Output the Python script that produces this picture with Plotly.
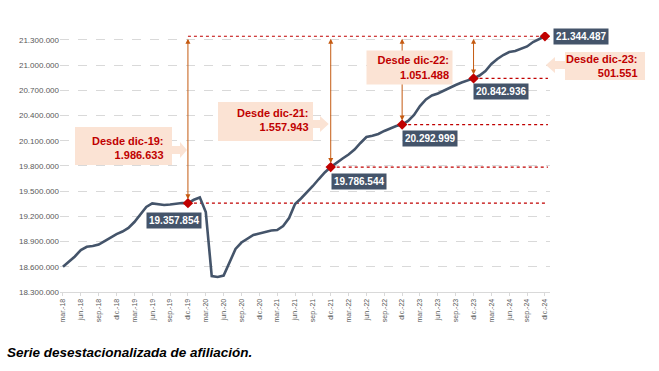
import plotly.graph_objects as go

# ---------------- data ----------------
months = ["mar", "abr", "may", "jun", "jul", "ago", "sep", "oct", "nov", "dic", "ene", "feb"]
period_labels = []
yr, mi = 18, 0
for k in range(82):
    period_labels.append(f"{months[mi]}.-{yr}")
    mi += 1
    if mi == 10:
        yr += 1
    if mi == 12:
        mi = 0

afiliados = [
    18601000, 18663000, 18723000, 18800000, 18838000, 18848000, 18865000, 18907000, 18949000, 18990000,
    19020000, 19062000, 19133000, 19217000, 19312000, 19354000, 19348000, 19336000, 19342000, 19354000,
    19360000, 19357854, 19398000, 19425000, 19252000, 18490000, 18479000, 18496000, 18657000, 18812000,
    18889000, 18937000, 18979000, 18996000, 19014000, 19032000, 19038000, 19086000, 19181000, 19348000,
    19413000, 19485000, 19562000, 19645000, 19723000, 19786544, 19842000, 19889000, 19937000, 19996000,
    20074000, 20145000, 20160000, 20181000, 20217000, 20246000, 20276000, 20292999, 20336000, 20407000,
    20514000, 20592000, 20639000, 20663000, 20699000, 20735000, 20764000, 20794000, 20818000, 20842936,
    20877000, 20931000, 21014000, 21074000, 21121000, 21157000, 21169000, 21193000, 21223000, 21276000,
    21306000, 21344487,
]

tick_idx = list(range(0, 82, 3))
tick_text = [period_labels[i] for i in tick_idx]

y_ticks = [18300000 + 300000 * k for k in range(11)]
y_tick_text = [f"{v:,}".replace(",", ".") for v in y_ticks]

hito_labels = ["dic-19", "dic-21", "dic-22", "dic-23", "dic-24"]
hito_idx = [21, 45, 57, 69, 81]
hito_vals = [afiliados[i] for i in hito_idx]
final_val = afiliados[-1]
diffs = [final_val - v for v in hito_vals[:-1]]

def fmt(v):
    return f"{v:,}".replace(",", ".")

# ---------------- geometry ----------------
W_FIG, H_FIG = 659, 371
L, R, T, B = 60, 109, 32, 79
PW, PH = W_FIG - L - R, H_FIG - T - B
X0, X1 = -0.5, 81.85
Y0, Y1 = 18300000, 21395000

def xpx(i):
    return L + (i - X0) / (X1 - X0) * PW

def ypx(v):
    return T + (Y1 - v) / (Y1 - Y0) * PH

def pp(px, py):
    return (px - L) / PW, (T + PH - py) / PH

LINE_C = "#44546A"
RED = "#C00000"
PEACH = "#FBE3D4"
ARROW_C = "#C55A11"
FONT = "Liberation Sans"

fig = go.Figure()

# red dotted reference lines
shapes = []
for i, v in zip(hito_idx[:-1], hito_vals[:-1]):
    shapes.append(dict(type="line", xref="x", yref="y", x0=i, x1=81.5, y0=v, y1=v,
                       line=dict(color=RED, width=1.2, dash="dot"), layer="below"))
shapes.append(dict(type="line", xref="x", yref="y", x0=hito_idx[0], x1=hito_idx[-1], y0=final_val, y1=final_val,
                   line=dict(color=RED, width=1.2, dash="dot"), layer="below"))

fig.add_trace(go.Scatter(x=list(range(len(afiliados))), y=afiliados, mode="lines",
                         line=dict(color=LINE_C, width=2.6), hoverinfo="skip", showlegend=False))
fig.add_trace(go.Scatter(x=hito_idx, y=hito_vals, mode="markers",
                         marker=dict(symbol="diamond", size=8, color=RED), showlegend=False, hoverinfo="skip"))

annotations = []
# vertical double arrows
for i, v in zip(hito_idx[:-1], hito_vals[:-1]):
    annotations.append(dict(x=i, y=v, ax=i, ay=final_val, xref="x", yref="y", axref="x", ayref="y",
                            text="", showarrow=True, arrowhead=2, startarrowhead=2, arrowside="end+start",
                            arrowsize=1, startarrowsize=1, arrowwidth=1, arrowcolor=ARROW_C,
                            standoff=4, startstandoff=1))

# callout boxes (peach)
def right_callout(x0, y0, x1, y1, cy, shaft_end, tip, sh, hh):
    pts = [(x0, y0), (x1, y0), (x1, cy - sh), (shaft_end, cy - sh), (shaft_end, cy - hh), (tip, cy),
           (shaft_end, cy + hh), (shaft_end, cy + sh), (x1, cy + sh), (x1, y1), (x0, y1)]
    p = [pp(*q) for q in pts]
    return "M" + " L".join(f"{a},{b}" for a, b in p) + " Z"

def left_callout(x0, y0, x1, y1, cy, shaft_end, tip, sh, hh):
    pts = [(x1, y0), (x0, y0), (x0, cy - sh), (shaft_end, cy - sh), (shaft_end, cy - hh), (tip, cy),
           (shaft_end, cy + hh), (shaft_end, cy + sh), (x0, cy + sh), (x0, y1), (x1, y1)]
    p = [pp(*q) for q in pts]
    return "M" + " L".join(f"{a},{b}" for a, b in p) + " Z"

x19 = xpx(hito_idx[0]); x21 = xpx(hito_idx[1]); xend = xpx(hito_idx[-1])
callouts = [
    right_callout(75, 127, 172, 165, 150, 180, x19 - 1, 4, 8),
    right_callout(218, 102, 313, 141, 124, 320, x21 - 2, 4, 8),
    left_callout(565, 52, 645, 80, 65, 555, xend + 1, 4, 8),
]
for pth in callouts:
    shapes.append(dict(type="path", xref="paper", yref="paper", path=pth,
                       fillcolor=PEACH, line=dict(width=0), layer="above"))

# callout texts
callout_text = [
    (166, 147.5, hito_labels[0], diffs[0]),
    (311, 120, hito_labels[1], diffs[1]),
    (640, 66, hito_labels[3], diffs[3]),
]
for px, py, lab, d in callout_text:
    xp, yp = pp(px, py)
    annotations.append(dict(xref="paper", yref="paper", x=xp, y=yp, xanchor="right", yanchor="middle",
                            align="right", showarrow=False,
                            text=f"<b>Desde {lab}:</b><br><b>{fmt(d)}</b>",
                            font=dict(family=FONT, size=11, color=RED)))

# dic-22 box: plain box covering the arrow
xp, yp = pp(409.5, 68)
annotations.append(dict(xref="paper", yref="paper", x=xp, y=yp, xanchor="center", yanchor="middle",
                        align="right", showarrow=False, width=79, height=27, borderpad=3,
                        bgcolor=PEACH,
                        text=f"<b>Desde {hito_labels[2]}:</b><br><b>{fmt(diffs[2])}</b>",
                        font=dict(family=FONT, size=11, color=RED)))

# value labels
shifts = [(-14, -17), (28, -14), (28, -14), (27, -13), (36, 0)]
for i, v, (dx, dy) in zip(hito_idx, hito_vals, shifts):
    annotations.append(dict(x=i, y=v, xref="x", yref="y", xshift=dx, yshift=dy, showarrow=False,
                            text=f"<b>{fmt(v)}</b>", bgcolor=LINE_C, borderpad=2,
                            font=dict(family=FONT, size=10, color="white")))

# footer
annotations.append(dict(xref="paper", yref="paper", x=pp(5, 0)[0], y=pp(0, 352)[1], xanchor="left",
                        yanchor="middle", showarrow=False,
                        text="<b><i>Serie desestacionalizada de afiliación.</i></b>",
                        font=dict(family=FONT, size=13.5, color="black")))

fig.update_layout(
    width=W_FIG, height=H_FIG,
    margin=dict(l=L, r=R, t=T, b=B),
    paper_bgcolor="white", plot_bgcolor="white",
    shapes=shapes, annotations=annotations,
    font=dict(family=FONT),
    xaxis=dict(range=[X0, X1], tickmode="array", tickvals=tick_idx, ticktext=tick_text, tickangle=-90,
               tickfont=dict(size=7, color="#595959"), showgrid=False, zeroline=False,
               showline=True, linecolor="#D9D9D9", linewidth=1, ticks="outside", ticklen=3,
               tickcolor="#D9D9D9"),
    yaxis=dict(range=[Y0, Y1], tickmode="array", tickvals=y_ticks, ticktext=y_tick_text,
               tickfont=dict(size=8, color="#595959"), showgrid=True, gridcolor="#D9D9D9",
               griddash="dash", gridwidth=1, zeroline=False, showline=False, ticks=""),
)

fig.write_html("out.html", config={"displayModeBar": False},
               post_script="document.body.style.margin='0';document.body.style.overflow='hidden';")
